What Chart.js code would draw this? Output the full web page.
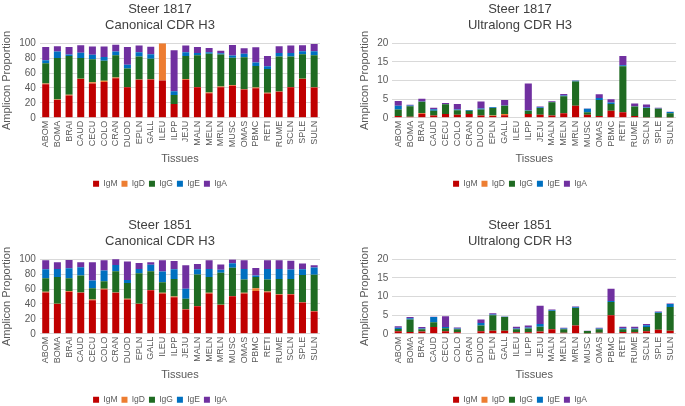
<!DOCTYPE html>
<html lang="en">
<head>
  <meta charset="UTF-8">
  <title>Steer CDR H3 isotypes</title>
  <script src="https://cdn.jsdelivr.net/npm/chart.js"></script>
  <style>
    body {
      margin: 0;
      background: #fff;
      overflow: hidden;
      font-family: 'Liberation Sans', Arial, sans-serif;
    }
    .panel {
      position: absolute;
      width: 342px;
      height: 198px;
    }
    #p1 { left: 0; top: 0; }
    #p2 { left: 342px; top: 0; }
    #p3 { left: 0; top: 216px; }
    #p4 { left: 342px; top: 216px; }
  </style>
</head>
<body>

<div class="panel" id="p1"><canvas id="c1"></canvas></div>
<div class="panel" id="p2"><canvas id="c2"></canvas></div>
<div class="panel" id="p3"><canvas id="c3"></canvas></div>
<div class="panel" id="p4"><canvas id="c4"></canvas></div>

<script>
  var tissues = ['ABOM', 'BOMA', 'BRAI', 'CAUD', 'CECU', 'COLO', 'CRAN', 'DUOD', 'EPLN', 'GALL', 'ILEU', 'ILPP',
                 'JEJU', 'MALN', 'MELN', 'MRLN', 'MUSC', 'OMAS', 'PBMC', 'RETI', 'RUME', 'SCLN', 'SPLE', 'SULN'];
  var isotypes = ['IgM', 'IgD', 'IgG', 'IgE', 'IgA'];

  // Steer 1817, canonical
  var can1817IgM = [45, 24, 30, 52, 46, 48, 53, 41, 51, 51.5, 50, 18.5, 51, 41, 33, 41, 43, 38, 39.5, 32.5, 35, 41, 52, 40.5];
  var can1817IgD = [1, 0.5, 1, 0.3, 1.5, 1.5, 1, 0, 0.3, 0.3, 50, 0, 1, 0.3, 1, 1, 1, 0.3, 1, 1, 0.3, 0.3, 0.3, 0.3];
  var can1817IgG = [27, 55.5, 52, 28, 31, 27, 30, 25, 31, 27.5, 0, 12, 31, 42.5, 52, 43, 36.5, 43, 29, 32, 47, 41, 33, 43];
  var can1817IgE = [4, 9, 2, 7, 6, 5, 5, 5, 5.5, 6, 0, 5, 5, 3, 2, 1.5, 3, 4.5, 4.5, 3.5, 4.5, 4.5, 4, 5.5];
  var can1817IgA = [18, 7, 10, 10, 11, 14, 9, 24, 9, 10, 0, 55, 9, 8, 5.5, 3.5, 14, 7.5, 20.5, 14, 9, 10, 8, 9.5];

  // Steer 1817, ultralong
  var ul1817IgM = [0.5, 0.3, 1.1, 0.6, 1.0, 0.8, 1.0, 0.6, 0.5, 0.7, 0, 1.0, 0.8, 0.6, 1.2, 3.2, 0.8, 0.5, 1.9, 1.5, 0.5, 0.05, 0.05, 0.05];
  var ul1817IgD = [0, 0, 0.2, 0, 0, 0, 0, 0, 0.1, 0.3, 0, 0, 0, 0, 0, 0, 0, 0, 0, 0, 0, 0, 0, 0];
  var ul1817IgG = [1.7, 2.8, 3.0, 1.3, 2.6, 1.2, 0.9, 1.6, 2.0, 2.2, 0, 0.9, 1.8, 3.6, 4.6, 6.5, 0.7, 4.3, 1.8, 12.3, 2.5, 2.6, 2.4, 1.2];
  var ul1817IgE = [1.0, 0.2, 0.1, 0.4, 0.1, 0.2, 0.2, 0.3, 0.2, 0.1, 0, 0.1, 0.2, 0.05, 0.2, 0.2, 0.9, 0.5, 0.4, 0.3, 0.1, 0.1, 0.05, 0.3];
  var ul1817IgA = [1.3, 0.2, 0.7, 0.4, 0.3, 1.5, 0, 1.9, 0.1, 1.5, 0, 7.2, 0.2, 0.2, 0.4, 0.1, 0.1, 1.0, 0.9, 2.5, 0.7, 0.8, 0.2, 0.05];

  // Steer 1851, canonical
  var can1851IgM = [55.5, 40, 56.5, 55, 45, 59.5, 55, 46, 40, 58.5, 54, 49, 32.5, 37, 54, 38.5, 50.5, 54, 57.5, 55.7, 52.4, 52.8, 42, 30];
  var can1851IgD = [1, 0.3, 1, 0.3, 1, 1, 0.2, 1, 0.2, 0.2, 1, 1, 0.5, 0.3, 1, 0.5, 0.2, 1, 3.5, 1, 0.5, 0.5, 0.2, 0.5];
  var can1851IgG = [18, 36, 17, 23, 15, 10, 28.5, 21, 40.8, 25.3, 14, 23.5, 14, 42.3, 21, 43, 38, 17.7, 15, 16, 20.7, 20.3, 36.6, 48.5];
  var can1851IgE = [12, 10.5, 13.5, 11, 10.5, 14.5, 8.5, 4, 6, 8.6, 14.5, 13, 13.5, 7, 11, 3.7, 6, 14, 2, 14, 13.4, 12.5, 7.8, 10];
  var can1851IgA = [12, 9, 11, 6.5, 24.5, 13.5, 8, 25, 8, 3.4, 15, 11, 31.5, 7, 11.7, 7.3, 5, 12, 10.3, 12, 11.7, 11.8, 7.8, 3];

  // Steer 1851, ultralong
  var ul1851IgM = [0.7, 0.5, 0.6, 1.8, 0.7, 0.4, 0, 0.7, 0.8, 0.8, 0.4, 0.4, 0.6, 1.2, 0.3, 2.2, 0.05, 0.3, 5.0, 0.5, 0.4, 0.7, 1.1, 0.8];
  var ul1851IgD = [0, 0, 0, 0, 0, 0, 0, 0, 0, 0, 0, 0, 0, 0, 0, 0, 0, 0, 0, 0, 0, 0, 0, 0];
  var ul1851IgG = [0.6, 3.3, 0.6, 1.3, 0.8, 0.8, 0, 1.5, 4.2, 3.7, 0.8, 1.0, 1.3, 4.9, 0.9, 4.7, 0.7, 0.9, 3.5, 0.7, 0.8, 1.1, 4.5, 6.4];
  var ul1851IgE = [0.3, 0.4, 0.2, 1.4, 0.3, 0.2, 0, 0.7, 0.2, 0.05, 0.2, 0.3, 0.7, 0.2, 0.2, 0.2, 0, 0.2, 0.3, 0.3, 0.2, 0.5, 0.2, 0.8];
  var ul1851IgA = [0.4, 0.3, 0.4, 0.1, 2.9, 0.3, 0, 0.9, 0.3, 0.1, 0.5, 0.5, 4.9, 0.2, 0.2, 0.2, 0.05, 0.2, 3.3, 0.4, 0.5, 0.3, 0.2, 0.1];

  var isoColors = ['#C00000', '#ED7D31', '#1F6B22', '#0070C0', '#7030A0'];

  var textColor = '#595959';
  var fontFamily = "'Liberation Sans', Arial, sans-serif";

  function makeChart(canvasId, titleLines, series, yMax, yStep, pad) {
    var ctx = document.getElementById(canvasId).getContext('2d');
    var datasets = series.map(function (vals, i) {
      return {
        label: isotypes[i],
        data: vals,
        backgroundColor: isoColors[i],
        borderWidth: 0,
        barPercentage: 0.6,
        categoryPercentage: 1.0
      };
    });
    return new Chart(ctx, {
      type: 'bar',
      data: { labels: tissues, datasets: datasets },
      options: {
        responsive: true,
        maintainAspectRatio: false,
        animation: false,
        layout: { padding: pad },
        scales: {
          x: {
            stacked: true,
            grid: { display: false, drawTicks: false },
            border: { display: false },
            ticks: {
              color: textColor,
              font: { family: fontFamily, size: 9 },
              minRotation: 90,
              maxRotation: 90,
              autoSkip: false,
              padding: 3
            },
            title: {
              display: true,
              text: 'Tissues',
              color: textColor,
              font: { family: fontFamily, size: 11 },
              padding: { top: 2, bottom: 10 }
            }
          },
          y: {
            stacked: true,
            min: 0,
            max: yMax,
            grid: { color: '#d9d9d9', drawTicks: false },
            border: { display: false },
            ticks: {
              stepSize: yStep,
              autoSkip: false,
              color: textColor,
              font: { family: fontFamily, size: 10 },
              padding: 4
            },
            title: {
              display: true,
              text: 'Amplicon Proportion',
              color: textColor,
              font: { family: fontFamily, size: 11 },
              padding: { top: 0, bottom: 2 }
            }
          }
        },
        plugins: {
          title: {
            display: true,
            text: titleLines,
            color: '#404040',
            font: { family: fontFamily, size: 13, weight: 'normal' },
            padding: { top: 2, bottom: 10 }
          },
          legend: {
            position: 'bottom',
            labels: {
              color: textColor,
              font: { family: fontFamily, size: 8.5 },
              boxWidth: 6,
              boxHeight: 6,
              padding: 4
            }
          },
          tooltip: { enabled: false }
        }
      }
    });
  }

  makeChart('c1', ['Steer 1817', 'Canonical CDR H3'],
    [can1817IgM, can1817IgD, can1817IgG, can1817IgE, can1817IgA], 100, 20,
    { left: 0, right: 22, top: 0, bottom: 0 });
  makeChart('c2', ['Steer 1817', 'Ultralong CDR H3'],
    [ul1817IgM, ul1817IgD, ul1817IgG, ul1817IgE, ul1817IgA], 20, 5,
    { left: 16, right: 2, top: 0, bottom: 0 });
  makeChart('c3', ['Steer 1851', 'Canonical CDR H3'],
    [can1851IgM, can1851IgD, can1851IgG, can1851IgE, can1851IgA], 100, 20,
    { left: 0, right: 22, top: 0, bottom: 0 });
  makeChart('c4', ['Steer 1851', 'Ultralong CDR H3'],
    [ul1851IgM, ul1851IgD, ul1851IgG, ul1851IgE, ul1851IgA], 20, 5,
    { left: 16, right: 2, top: 0, bottom: 0 });
</script>

</body>
</html>
